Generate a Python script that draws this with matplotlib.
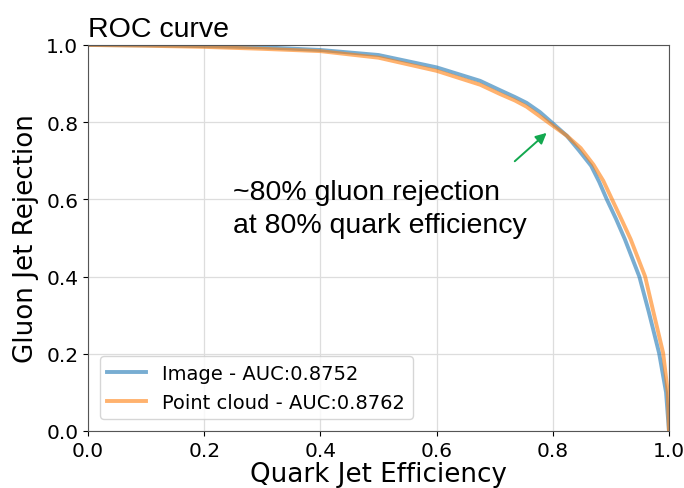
import matplotlib.pyplot as plt

# ROC points (quark efficiency, gluon rejection) for both models
image_eff = [0.0, 0.1, 0.2, 0.3, 0.4, 0.5, 0.6, 0.675, 0.709, 0.735, 0.755, 0.778, 0.80,
             0.824, 0.845, 0.866, 0.880, 0.893, 0.909, 0.924, 0.949, 0.965, 0.983, 0.995, 1.0]
image_rej = [1.0, 0.999, 0.997, 0.994, 0.987, 0.974, 0.942, 0.907, 0.883, 0.865, 0.850, 0.826, 0.797,
             0.765, 0.727, 0.687, 0.645, 0.600, 0.549, 0.497, 0.400, 0.310, 0.202, 0.100, 0.0]

cloud_eff = [0.0, 0.1, 0.2, 0.3, 0.4, 0.5, 0.6, 0.675, 0.709, 0.735, 0.755, 0.778, 0.80,
             0.824, 0.848, 0.870, 0.887, 0.902, 0.918, 0.934, 0.959, 0.973, 0.990, 0.998, 1.0]
cloud_rej = [1.0, 0.998, 0.995, 0.990, 0.984, 0.967, 0.933, 0.897, 0.873, 0.856, 0.840, 0.815, 0.791,
             0.765, 0.733, 0.690, 0.648, 0.600, 0.549, 0.497, 0.400, 0.310, 0.202, 0.100, 0.0]

labels = ['Image - AUC:0.8752', 'Point cloud - AUC:0.8762']

fig = plt.figure(figsize=(6.84, 4.89), dpi=100)
ax = fig.add_axes([0.1287, 0.1166, 0.8493, 0.7894])

ax.plot(image_eff, image_rej, color='tab:blue', alpha=0.6, lw=2.8, label=labels[0])
ax.plot(cloud_eff, cloud_rej, color='tab:orange', alpha=0.6, lw=2.8, label=labels[1])

ax.set_xlim(0, 1)
ax.set_ylim(0, 1)
ax.grid(True, color='#dddddd', lw=0.9)
ax.set_axisbelow(True)
for s in ax.spines.values():
    s.set_color('#555555')

ax.tick_params(labelsize=14.5)
ax.set_xlabel('Quark Jet Efficiency', fontsize=18.8, labelpad=1)
ax.set_ylabel('Gluon Jet Rejection', fontsize=18.8, labelpad=5)
ax.set_title('ROC curve', loc='left', fontsize=20.5, family='Liberation Sans', pad=6.5)

ax.legend(loc='lower left', fontsize=14, borderaxespad=0.6, handlelength=2.0)

ax.annotate('', xy=(0.793, 0.777), xytext=(0.731, 0.694),
            arrowprops=dict(arrowstyle='-|>', color='#13a84f', lw=1.4, mutation_scale=16))
# baseline of the last line sits at y=0.516
ax.text(0.25, 0.516, '~80% gluon rejection\nat 80% quark efficiency', fontsize=20.5,
        family='Liberation Sans', va='baseline', linespacing=1.35)

plt.savefig('out.png')
